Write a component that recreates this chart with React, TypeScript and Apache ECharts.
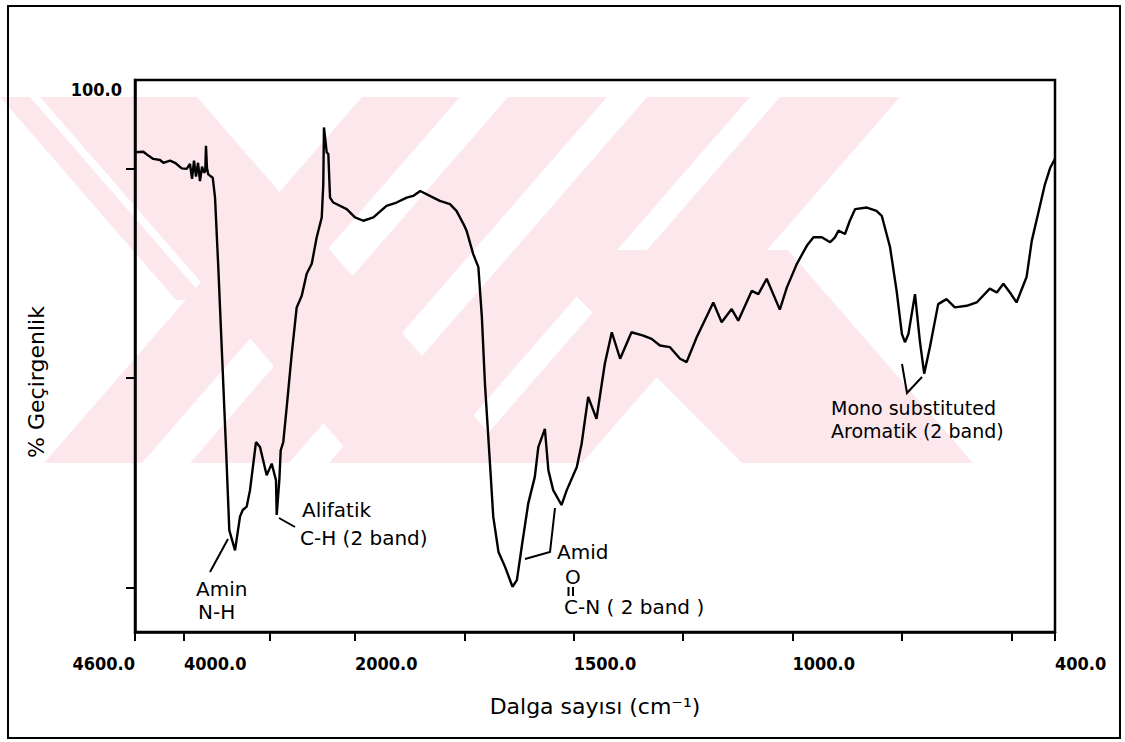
import React, { useEffect, useRef } from "react";
import * as echarts from "echarts";

// IR spectrum: wavenumber (cm-1) and % transmittance
const wavenumbers: number[] = [
  4600, 4498, 4437, 4376, 4294, 4253, 4171, 4110, 4028, 3968,
  3930, 3906, 3883, 3860, 3836, 3813, 3789, 3766, 3751, 3743,
  3731, 3716, 3664, 3637, 3599, 3559, 3509, 3470, 3403, 3345,
  3313, 3267, 3228, 3158, 3111, 3033, 2974, 2924, 2916, 2885,
  2869, 2839, 2799, 2740, 2682, 2623, 2565, 2506, 2448, 2389,
  2371, 2363, 2331, 2312, 2292, 2254, 2097, 2000, 1981, 1958,
  1928, 1905, 1882, 1867, 1851, 1821, 1806, 1783, 1768, 1752,
  1745, 1730, 1718, 1710, 1703, 1691, 1684, 1672, 1657, 1640,
  1630, 1619, 1604, 1589, 1581, 1566, 1558, 1547, 1528, 1516,
  1493, 1482, 1467, 1448, 1429, 1413, 1394, 1368, 1341, 1322,
  1303, 1280, 1257, 1242, 1219, 1181, 1162, 1139, 1124, 1093,
  1078, 1059, 1029, 1013, 1006, 990, 967, 952, 933, 914,
  903, 895, 880, 869, 857, 830, 808, 796, 777, 762,
  750, 743, 735, 720, 709, 699, 686, 667, 648, 629,
  602, 579, 549, 533, 518, 503, 488, 465, 453, 438,
  423, 411, 400,
];
const transmittance: number[] = [
  86.9, 87.0, 86.3, 85.7, 85.5, 85.0, 85.4, 85.0, 84.0, 83.9,
  84.8, 82.1, 85.4, 82.5, 85.0, 81.7, 84.3, 83.2, 83.5, 88.1,
  84.0, 82.9, 82.3, 78.7, 66.1, 51.6, 33.5, 18.4, 14.8, 20.9,
  22.1, 22.7, 25.7, 34.4, 33.5, 28.4, 30.5, 27.5, 21.2, 27.5,
  32.9, 34.4, 40.7, 50.4, 58.8, 60.9, 64.9, 66.7, 71.5, 75.1,
  81.1, 91.4, 86.9, 86.6, 78.7, 77.8, 76.6, 75.1, 74.5, 75.1,
  77.2, 77.8, 78.7, 79.0, 79.9, 78.7, 78.1, 77.5, 76.3, 73.9,
  72.7, 68.5, 66.1, 57.0, 45.0, 29.9, 20.9, 14.5, 11.8, 8.2,
  9.4, 15.4, 23.3, 28.1, 33.5, 36.8, 29.3, 25.7, 23.0, 25.7,
  29.9, 34.1, 42.6, 38.6, 48.6, 54.3, 49.5, 54.3, 53.7, 53.1,
  51.9, 51.6, 49.5, 48.9, 53.4, 59.7, 56.1, 58.5, 56.4, 61.8,
  61.2, 64.0, 58.4, 62.4, 63.7, 66.7, 70.0, 71.5, 71.5, 70.6,
  71.5, 72.7, 72.1, 74.5, 76.6, 76.9, 76.3, 75.4, 69.7, 61.8,
  54.0, 52.5, 54.0, 61.2, 52.8, 46.8, 51.6, 59.4, 60.3, 58.8,
  59.1, 59.7, 62.2, 61.5, 63.1, 61.5, 59.7, 64.3, 70.9, 76.0,
  81.1, 84.1, 85.7,
];

// axis ticks / labels
const xTickWavenumbers = [4600, 4000, 3000, 2000, 1750, 1500, 1250, 1000, 750, 500, 400];
const xLabelWavenumbers = [4600, 4000, 2000, 1500, 1000, 400];
const yTickValues = [8, 46, 84];
const yLabelValues = [100];

// the spectrometer's abscissa changes scale at 4000 and 2000 cm-1
const axisBreakWn = [4600, 4000, 2000, 400];
const axisBreakPos = [0, 49, 220, 920];

function wnToPos(w: number): number {
  for (let i = 0; i < axisBreakWn.length - 1; i++) {
    const a = axisBreakWn[i];
    const b = axisBreakWn[i + 1];
    if (w <= a && w >= b) {
      return axisBreakPos[i] + ((a - w) / (a - b)) * (axisBreakPos[i + 1] - axisBreakPos[i]);
    }
  }
  return w > axisBreakWn[0] ? axisBreakPos[0] : axisBreakPos[axisBreakPos.length - 1];
}

const FONT = "'DejaVu Sans', 'Noto Sans', sans-serif";
const NUM_FONT = "'DejaVu Sans Condensed', 'DejaVu Sans', sans-serif";
const WM = "#fce8ec";

const watermark: number[][][] = [
  [[0, 97], [30, 97], [206, 300], [176, 300]],
  [[40, 97], [197, 97], [515, 463], [358, 463]],
  [[362, 97], [460, 97], [142, 463], [44, 463]],
  [[508, 97], [607, 97], [289, 463], [190, 463]],
  [[647, 97], [750, 97], [432, 463], [329, 463]],
  [[780, 97], [900, 97], [582, 463], [462, 463]],
  [[530, 250], [788, 250], [973, 463], [742, 463]],
];

function txt(text: string, x: number, y: number, size = 20) {
  return {
    type: "text",
    x,
    y,
    z: 20,
    silent: true,
    style: {
      text,
      fill: "#000",
      fontSize: size,
      fontFamily: FONT,
      align: "left",
      verticalAlign: "middle",
    },
  };
}
function pl(points: number[][]) {
  return {
    type: "polyline",
    z: 20,
    silent: true,
    shape: { points },
    style: { stroke: "#000", lineWidth: 2, fill: "none" },
  };
}

export default function App() {
  const ref = useRef<HTMLDivElement>(null);
  useEffect(() => {
    const chart = echarts.init(ref.current!, null, { renderer: "svg" });
    const data = wavenumbers.map((w, i) => [wnToPos(w), transmittance[i]]);
    const xLabelPos = xLabelWavenumbers.map(wnToPos);
    const option: any = {
      animation: false,
      backgroundColor: "#fff",
      grid: {
        left: 135,
        right: 70,
        top: 80,
        bottom: 110,
        show: true,
        borderColor: "#000",
        borderWidth: 2.5,
        backgroundColor: "transparent",
        containLabel: false,
        outerBoundsMode: "none",
      },
      xAxis: {
        type: "value",
        min: 0,
        max: 920,
        axisLine: { show: true, onZero: false, lineStyle: { color: "#000", width: 2.5 } },
        axisTick: {
          show: true,
          length: 9,
          lineStyle: { color: "#000", width: 2 },
          customValues: xTickWavenumbers.map(wnToPos),
        },
        axisLabel: {
          customValues: xLabelPos,
          formatter: (v: number) => {
            const i = xLabelPos.findIndex((p) => Math.abs(p - v) < 0.01);
            return i >= 0 ? xLabelWavenumbers[i].toFixed(1) : "";
          },
          align: "left",
          alignMinLabel: "right",
          alignMaxLabel: "left",
          margin: 22,
          fontSize: 18,
          fontWeight: "bold",
          fontFamily: NUM_FONT,
          color: "#000",
        },
        splitLine: { show: false },
        name: "Dalga sayısı (cm⁻¹)",
        nameLocation: "middle",
        nameGap: 63,
        nameTextStyle: { fontSize: 22, fontFamily: FONT, color: "#000" },
      },
      yAxis: {
        type: "value",
        min: 0,
        max: 100,
        axisLine: { show: true, onZero: false, lineStyle: { color: "#000", width: 2.5 } },
        axisTick: {
          show: true,
          length: 9,
          lineStyle: { color: "#000", width: 2 },
          customValues: yTickValues,
        },
        axisLabel: {
          customValues: yLabelValues,
          formatter: (v: number) => v.toFixed(1),
          margin: 13,
          verticalAlign: "top",
          fontSize: 18,
          fontWeight: "bold",
          fontFamily: NUM_FONT,
          color: "#000",
        },
        splitLine: { show: false },
        name: "% Geçirgenlik",
        nameLocation: "middle",
        nameRotate: 90,
        nameGap: 88,
        nameTextStyle: { fontSize: 22, fontFamily: FONT, color: "#000", padding: [0, 52, 0, 0] },
      },
      series: [
        {
          type: "line",
          data,
          showSymbol: false,
          symbol: "none",
          z: 5,
          lineStyle: { color: "#000", width: 2.4 },
        },
      ],
      graphic: [
        ...watermark.map((points) => ({
          type: "polygon",
          z: -10,
          silent: true,
          shape: { points },
          style: { fill: WM },
        })),
        {
          type: "rect",
          z: 20,
          silent: true,
          shape: { x: 8, y: 6, width: 1112, height: 732 },
          style: { fill: "none", stroke: "#000", lineWidth: 2 },
        },
        txt("Amin", 196, 589),
        txt("N-H", 198, 612),
        pl([[210, 572], [228, 539]]),
        txt("Alifatik", 302, 510),
        txt("C-H (2 band)", 300, 538),
        pl([[279, 518], [295, 527]]),
        txt("Amid", 557, 552),
        pl([[525, 559], [550, 552], [555, 508]]),
        txt("O", 565, 577),
        pl([[568.5, 587], [568.5, 596]]),
        pl([[573, 587], [573, 596]]),
        txt("C-N ( 2 band )", 564, 607),
        txt("Mono substituted", 831, 408, 19),
        txt("Aromatik (2 band)", 831, 431, 19),
        pl([[902, 364], [907, 393], [922, 377]]),
      ],
    };
    chart.setOption(option);
    return () => chart.dispose();
  }, []);
  return (
    <div
      ref={ref}
      style={{ position: "fixed", left: 0, top: 0, width: 1125, height: 742, background: "#fff" }}
    />
  );
}
